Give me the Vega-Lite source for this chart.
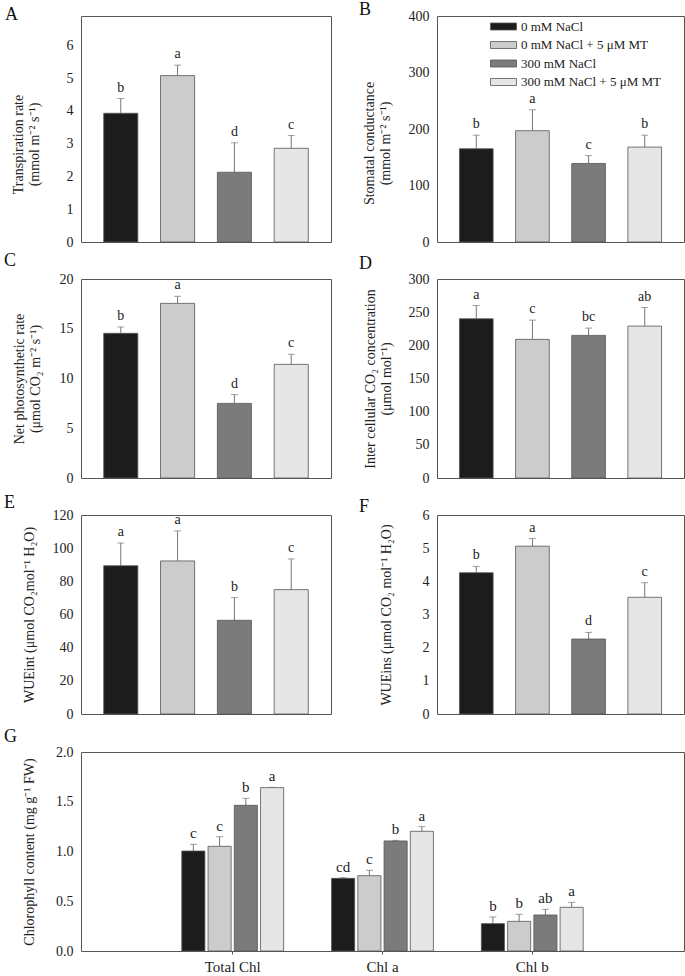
{
  "$schema": "https://vega.github.io/schema/vega-lite/v6.json",
  "padding": {"left": 3, "top": 0, "right": 0, "bottom": 0},
  "background": "white",
  "spacing": 5,
  "resolve": {"scale": {"color": "independent"}, "legend": {"color": "independent"}},
  "config": {
    "font": "Liberation Serif",
    "view": {"stroke": "#555", "strokeWidth": 1},
    "axis": {"labelFont": "Liberation Serif", "labelFontSize": 14, "titleFont": "Liberation Serif", "titleFontSize": 14, "titleFontWeight": "normal", "labelColor": "#222", "titleColor": "#222", "ticks": false, "grid": false, "domain": false, "labelPadding": 8, "titleLineHeight": 16},
    "title": {"font": "Liberation Serif", "fontSize": 18, "fontWeight": "normal", "anchor": "start", "frame": "group", "offset": 0, "baseline": "alphabetic", "color": "#111"},
    "legend": {"labelFont": "Liberation Serif", "labelFontSize": 13, "labelColor": "#222"}
  },
  "datasets": {
    "bars": [
      {"panel": "A", "treatment": "0 mM NaCl", "value": 3.93, "upper": 4.38, "letter": "b"},
      {"panel": "A", "treatment": "0 mM NaCl + 5 μM MT", "value": 5.08, "upper": 5.40, "letter": "a"},
      {"panel": "A", "treatment": "300 mM NaCl", "value": 2.13, "upper": 3.03, "letter": "d"},
      {"panel": "A", "treatment": "300 mM NaCl + 5 μM MT", "value": 2.86, "upper": 3.25, "letter": "c"},
      {"panel": "B", "treatment": "0 mM NaCl", "value": 165, "upper": 189, "letter": "b"},
      {"panel": "B", "treatment": "0 mM NaCl + 5 μM MT", "value": 197, "upper": 234, "letter": "a"},
      {"panel": "B", "treatment": "300 mM NaCl", "value": 139, "upper": 153, "letter": "c"},
      {"panel": "B", "treatment": "300 mM NaCl + 5 μM MT", "value": 168, "upper": 189, "letter": "b"},
      {"panel": "C", "treatment": "0 mM NaCl", "value": 14.54, "upper": 15.18, "letter": "b"},
      {"panel": "C", "treatment": "0 mM NaCl + 5 μM MT", "value": 17.55, "upper": 18.26, "letter": "a"},
      {"panel": "C", "treatment": "300 mM NaCl", "value": 7.50, "upper": 8.38, "letter": "d"},
      {"panel": "C", "treatment": "300 mM NaCl + 5 μM MT", "value": 11.42, "upper": 12.43, "letter": "c"},
      {"panel": "D", "treatment": "0 mM NaCl", "value": 240, "upper": 260, "letter": "a"},
      {"panel": "D", "treatment": "0 mM NaCl + 5 μM MT", "value": 209, "upper": 238, "letter": "c"},
      {"panel": "D", "treatment": "300 mM NaCl", "value": 215, "upper": 226, "letter": "bc"},
      {"panel": "D", "treatment": "300 mM NaCl + 5 μM MT", "value": 229, "upper": 257, "letter": "ab"},
      {"panel": "E", "treatment": "0 mM NaCl", "value": 89.4, "upper": 103.1, "letter": "a"},
      {"panel": "E", "treatment": "0 mM NaCl + 5 μM MT", "value": 92.3, "upper": 110.4, "letter": "a"},
      {"panel": "E", "treatment": "300 mM NaCl", "value": 56.5, "upper": 70.2, "letter": "b"},
      {"panel": "E", "treatment": "300 mM NaCl + 5 μM MT", "value": 75.0, "upper": 93.5, "letter": "c"},
      {"panel": "F", "treatment": "0 mM NaCl", "value": 4.26, "upper": 4.45, "letter": "b"},
      {"panel": "F", "treatment": "0 mM NaCl + 5 μM MT", "value": 5.06, "upper": 5.29, "letter": "a"},
      {"panel": "F", "treatment": "300 mM NaCl", "value": 2.26, "upper": 2.46, "letter": "d"},
      {"panel": "F", "treatment": "300 mM NaCl + 5 μM MT", "value": 3.52, "upper": 3.96, "letter": "c"}
    ],
    "chl": [
      {"pigment": "Total Chl", "treatment": "0 mM NaCl", "value": 1.005, "upper": 1.072, "letter": "c"},
      {"pigment": "Total Chl", "treatment": "0 mM NaCl + 5 μM MT", "value": 1.052, "upper": 1.149, "letter": "c"},
      {"pigment": "Total Chl", "treatment": "300 mM NaCl", "value": 1.464, "upper": 1.534, "letter": "b"},
      {"pigment": "Total Chl", "treatment": "300 mM NaCl + 5 μM MT", "value": 1.642, "upper": 1.645, "letter": "a"},
      {"pigment": "Chl a", "treatment": "0 mM NaCl", "value": 0.730, "upper": 0.737, "letter": "cd"},
      {"pigment": "Chl a", "treatment": "0 mM NaCl + 5 μM MT", "value": 0.757, "upper": 0.811, "letter": "c"},
      {"pigment": "Chl a", "treatment": "300 mM NaCl", "value": 1.106, "upper": 1.112, "letter": "b"},
      {"pigment": "Chl a", "treatment": "300 mM NaCl + 5 μM MT", "value": 1.203, "upper": 1.25, "letter": "a"},
      {"pigment": "Chl b", "treatment": "0 mM NaCl", "value": 0.275, "upper": 0.342, "letter": "b"},
      {"pigment": "Chl b", "treatment": "0 mM NaCl + 5 μM MT", "value": 0.298, "upper": 0.369, "letter": "b"},
      {"pigment": "Chl b", "treatment": "300 mM NaCl", "value": 0.362, "upper": 0.419, "letter": "ab"},
      {"pigment": "Chl b", "treatment": "300 mM NaCl + 5 μM MT", "value": 0.439, "upper": 0.489, "letter": "a"}
    ]
  },
  "vconcat": [
    {
      "columns": 2,
      "bounds": "flush",
      "align": {"row": "each", "column": "all"},
      "spacing": {"row": 37, "column": 106},
      "resolve": {"scale": {"color": "independent"}, "legend": {"color": "independent"}},
      "concat": [
        {
          "title": {"text": "A", "dx": -76, "dy": 12},
          "width": 250, "height": 226,
          "data": {"name": "bars"},
          "transform": [{"filter": "datum.panel === 'A'"}],
          "encoding": {
            "x": {"field": "treatment", "type": "nominal", "sort": ["0 mM NaCl", "0 mM NaCl + 5 μM MT", "300 mM NaCl", "300 mM NaCl + 5 μM MT"], "scale": {"paddingInner": 0.4, "paddingOuter": 0.4}, "axis": null},
            "y": {"field": "value", "type": "quantitative", "scale": {"domain": [0, 6.9], "nice": false}, "axis": {"values": [0, 1, 2, 3, 4, 5, 6], "title": ["Transpiration rate", "(mmol m⁻² s⁻¹)"], "titlePadding": 25, "titleY": 128}}
          },
          "layer": [
            {"mark": {"type": "rule", "color": "#777", "strokeWidth": 1}, "encoding": {"y2": {"field": "upper"}}},
            {"mark": {"type": "bar", "stroke": "#555", "strokeWidth": 0.8}, "encoding": {
              "color": {"field": "treatment", "type": "nominal", "scale": {"domain": ["0 mM NaCl", "0 mM NaCl + 5 μM MT", "300 mM NaCl", "300 mM NaCl + 5 μM MT"], "range": ["#1c1c1c", "#cccccc", "#7b7b7b", "#e6e6e6"]}, "legend": null}}},
            {"mark": {"type": "tick", "color": "#777", "size": 7, "thickness": 1}, "encoding": {"y": {"field": "upper", "type": "quantitative", "scale": {"domain": [0, 6.9], "nice": false}, "axis": {"values": [0, 1, 2, 3, 4, 5, 6], "title": ["Transpiration rate", "(mmol m⁻² s⁻¹)"], "titlePadding": 25, "titleY": 128}}}},
            {"mark": {"type": "text", "fontSize": 14, "dy": -7, "baseline": "alphabetic", "color": "#222"}, "encoding": {"y": {"field": "upper", "type": "quantitative", "scale": {"domain": [0, 6.9], "nice": false}, "axis": {"values": [0, 1, 2, 3, 4, 5, 6], "title": ["Transpiration rate", "(mmol m⁻² s⁻¹)"], "titlePadding": 25, "titleY": 128}}, "text": {"field": "letter"}}}
          ]
        },
        {
          "title": {"text": "B", "dx": -78, "dy": 14},
          "width": 247, "height": 226,
          "data": {"name": "bars"},
          "transform": [{"filter": "datum.panel === 'B'"}],
          "encoding": {
            "x": {"field": "treatment", "type": "nominal", "sort": ["0 mM NaCl", "0 mM NaCl + 5 μM MT", "300 mM NaCl", "300 mM NaCl + 5 μM MT"], "scale": {"paddingInner": 0.4, "paddingOuter": 0.4}, "axis": null},
            "y": {"field": "value", "type": "quantitative", "scale": {"domain": [0, 400], "nice": false}, "axis": {"values": [0, 100, 200, 300, 400], "title": ["Stomatal conductance", "(mmol m⁻² s⁻¹)"], "titlePadding": 16, "titleY": 127}}
          },
          "layer": [
            {"mark": {"type": "rule", "color": "#777", "strokeWidth": 1}, "encoding": {"y2": {"field": "upper"}}},
            {"mark": {"type": "bar", "stroke": "#555", "strokeWidth": 0.8}, "encoding": {
              "color": {"field": "treatment", "type": "nominal", "scale": {"domain": ["0 mM NaCl", "0 mM NaCl + 5 μM MT", "300 mM NaCl", "300 mM NaCl + 5 μM MT"], "range": ["#1c1c1c", "#cccccc", "#7b7b7b", "#e6e6e6"]},
                "legend": {"orient": "none", "legendX": 60, "legendY": 4, "title": null, "symbolType": "M-13,-3.5H13V3.5H-13Z", "symbolSize": 4, "symbolStrokeColor": "#555", "symbolStrokeWidth": 0.8, "labelOffset": 11, "rowPadding": 4.5, "padding": 0, "labelFontSize": 13}}}},
            {"mark": {"type": "tick", "color": "#777", "size": 7, "thickness": 1}, "encoding": {"y": {"field": "upper", "type": "quantitative", "scale": {"domain": [0, 400], "nice": false}, "axis": {"values": [0, 100, 200, 300, 400], "title": ["Stomatal conductance", "(mmol m⁻² s⁻¹)"], "titlePadding": 16, "titleY": 127}}}},
            {"mark": {"type": "text", "fontSize": 14, "dy": -7, "baseline": "alphabetic", "color": "#222"}, "encoding": {"y": {"field": "upper", "type": "quantitative", "scale": {"domain": [0, 400], "nice": false}, "axis": {"values": [0, 100, 200, 300, 400], "title": ["Stomatal conductance", "(mmol m⁻² s⁻¹)"], "titlePadding": 16, "titleY": 127}}, "text": {"field": "letter"}}}
          ]
        },
        {
          "title": {"text": "C", "dx": -77, "dy": 1.5},
          "width": 250, "height": 199,
          "data": {"name": "bars"},
          "transform": [{"filter": "datum.panel === 'C'"}],
          "encoding": {
            "x": {"field": "treatment", "type": "nominal", "sort": ["0 mM NaCl", "0 mM NaCl + 5 μM MT", "300 mM NaCl", "300 mM NaCl + 5 μM MT"], "scale": {"paddingInner": 0.4, "paddingOuter": 0.4}, "axis": null},
            "y": {"field": "value", "type": "quantitative", "scale": {"domain": [0, 20], "nice": false}, "axis": {"values": [0, 5, 10, 15, 20], "title": ["Net photosynthetic rate", "(μmol CO₂ m⁻² s⁻¹)"], "titlePadding": 17}}
          },
          "layer": [
            {"mark": {"type": "rule", "color": "#777", "strokeWidth": 1}, "encoding": {"y2": {"field": "upper"}}},
            {"mark": {"type": "bar", "stroke": "#555", "strokeWidth": 0.8}, "encoding": {
              "color": {"field": "treatment", "type": "nominal", "scale": {"domain": ["0 mM NaCl", "0 mM NaCl + 5 μM MT", "300 mM NaCl", "300 mM NaCl + 5 μM MT"], "range": ["#1c1c1c", "#cccccc", "#7b7b7b", "#e6e6e6"]}, "legend": null}}},
            {"mark": {"type": "tick", "color": "#777", "size": 7, "thickness": 1}, "encoding": {"y": {"field": "upper", "type": "quantitative", "scale": {"domain": [0, 20], "nice": false}, "axis": {"values": [0, 5, 10, 15, 20], "title": ["Net photosynthetic rate", "(μmol CO₂ m⁻² s⁻¹)"], "titlePadding": 17}}}},
            {"mark": {"type": "text", "fontSize": 14, "dy": -7, "baseline": "alphabetic", "color": "#222"}, "encoding": {"y": {"field": "upper", "type": "quantitative", "scale": {"domain": [0, 20], "nice": false}, "axis": {"values": [0, 5, 10, 15, 20], "title": ["Net photosynthetic rate", "(μmol CO₂ m⁻² s⁻¹)"], "titlePadding": 17}}, "text": {"field": "letter"}}}
          ]
        },
        {
          "title": {"text": "D", "dx": -78, "dy": 4.5},
          "width": 247, "height": 199,
          "data": {"name": "bars"},
          "transform": [{"filter": "datum.panel === 'D'"}],
          "encoding": {
            "x": {"field": "treatment", "type": "nominal", "sort": ["0 mM NaCl", "0 mM NaCl + 5 μM MT", "300 mM NaCl", "300 mM NaCl + 5 μM MT"], "scale": {"paddingInner": 0.4, "paddingOuter": 0.4}, "axis": null},
            "y": {"field": "value", "type": "quantitative", "scale": {"domain": [0, 300], "nice": false}, "axis": {"values": [0, 50, 100, 150, 200, 250, 300], "title": ["Inter cellular CO₂ concentration", "(μmol mol⁻¹)"], "titlePadding": 15}}
          },
          "layer": [
            {"mark": {"type": "rule", "color": "#777", "strokeWidth": 1}, "encoding": {"y2": {"field": "upper"}}},
            {"mark": {"type": "bar", "stroke": "#555", "strokeWidth": 0.8}, "encoding": {
              "color": {"field": "treatment", "type": "nominal", "scale": {"domain": ["0 mM NaCl", "0 mM NaCl + 5 μM MT", "300 mM NaCl", "300 mM NaCl + 5 μM MT"], "range": ["#1c1c1c", "#cccccc", "#7b7b7b", "#e6e6e6"]}, "legend": null}}},
            {"mark": {"type": "tick", "color": "#777", "size": 7, "thickness": 1}, "encoding": {"y": {"field": "upper", "type": "quantitative", "scale": {"domain": [0, 300], "nice": false}, "axis": {"values": [0, 50, 100, 150, 200, 250, 300], "title": ["Inter cellular CO₂ concentration", "(μmol mol⁻¹)"], "titlePadding": 15}}}},
            {"mark": {"type": "text", "fontSize": 14, "dy": -7, "baseline": "alphabetic", "color": "#222"}, "encoding": {"y": {"field": "upper", "type": "quantitative", "scale": {"domain": [0, 300], "nice": false}, "axis": {"values": [0, 50, 100, 150, 200, 250, 300], "title": ["Inter cellular CO₂ concentration", "(μmol mol⁻¹)"], "titlePadding": 15}}, "text": {"field": "letter"}}}
          ]
        },
        {
          "title": {"text": "E", "dx": -77, "dy": 7.5},
          "width": 250, "height": 199,
          "data": {"name": "bars"},
          "transform": [{"filter": "datum.panel === 'E'"}],
          "encoding": {
            "x": {"field": "treatment", "type": "nominal", "sort": ["0 mM NaCl", "0 mM NaCl + 5 μM MT", "300 mM NaCl", "300 mM NaCl + 5 μM MT"], "scale": {"paddingInner": 0.4, "paddingOuter": 0.4}, "axis": null},
            "y": {"field": "value", "type": "quantitative", "scale": {"domain": [0, 120], "nice": false}, "axis": {"values": [0, 20, 40, 60, 80, 100, 120], "title": "WUEint (μmol CO₂mol⁻¹ H₂O)", "titlePadding": 16}}
          },
          "layer": [
            {"mark": {"type": "rule", "color": "#777", "strokeWidth": 1}, "encoding": {"y2": {"field": "upper"}}},
            {"mark": {"type": "bar", "stroke": "#555", "strokeWidth": 0.8}, "encoding": {
              "color": {"field": "treatment", "type": "nominal", "scale": {"domain": ["0 mM NaCl", "0 mM NaCl + 5 μM MT", "300 mM NaCl", "300 mM NaCl + 5 μM MT"], "range": ["#1c1c1c", "#cccccc", "#7b7b7b", "#e6e6e6"]}, "legend": null}}},
            {"mark": {"type": "tick", "color": "#777", "size": 7, "thickness": 1}, "encoding": {"y": {"field": "upper", "type": "quantitative", "scale": {"domain": [0, 120], "nice": false}, "axis": {"values": [0, 20, 40, 60, 80, 100, 120], "title": "WUEint (μmol CO₂mol⁻¹ H₂O)", "titlePadding": 16}}}},
            {"mark": {"type": "text", "fontSize": 14, "dy": -7, "baseline": "alphabetic", "color": "#222"}, "encoding": {"y": {"field": "upper", "type": "quantitative", "scale": {"domain": [0, 120], "nice": false}, "axis": {"values": [0, 20, 40, 60, 80, 100, 120], "title": "WUEint (μmol CO₂mol⁻¹ H₂O)", "titlePadding": 16}}, "text": {"field": "letter"}}}
          ]
        },
        {
          "title": {"text": "F", "dx": -78, "dy": 11.5},
          "width": 247, "height": 199,
          "data": {"name": "bars"},
          "transform": [{"filter": "datum.panel === 'F'"}],
          "encoding": {
            "x": {"field": "treatment", "type": "nominal", "sort": ["0 mM NaCl", "0 mM NaCl + 5 μM MT", "300 mM NaCl", "300 mM NaCl + 5 μM MT"], "scale": {"paddingInner": 0.4, "paddingOuter": 0.4}, "axis": null},
            "y": {"field": "value", "type": "quantitative", "scale": {"domain": [0, 6], "nice": false}, "axis": {"values": [0, 1, 2, 3, 4, 5, 6], "title": "WUEins (μmol CO₂ mol⁻¹ H₂O)", "titlePadding": 29}}
          },
          "layer": [
            {"mark": {"type": "rule", "color": "#777", "strokeWidth": 1}, "encoding": {"y2": {"field": "upper"}}},
            {"mark": {"type": "bar", "stroke": "#555", "strokeWidth": 0.8}, "encoding": {
              "color": {"field": "treatment", "type": "nominal", "scale": {"domain": ["0 mM NaCl", "0 mM NaCl + 5 μM MT", "300 mM NaCl", "300 mM NaCl + 5 μM MT"], "range": ["#1c1c1c", "#cccccc", "#7b7b7b", "#e6e6e6"]}, "legend": null}}},
            {"mark": {"type": "tick", "color": "#777", "size": 7, "thickness": 1}, "encoding": {"y": {"field": "upper", "type": "quantitative", "scale": {"domain": [0, 6], "nice": false}, "axis": {"values": [0, 1, 2, 3, 4, 5, 6], "title": "WUEins (μmol CO₂ mol⁻¹ H₂O)", "titlePadding": 29}}}},
            {"mark": {"type": "text", "fontSize": 14, "dy": -7, "baseline": "alphabetic", "color": "#222"}, "encoding": {"y": {"field": "upper", "type": "quantitative", "scale": {"domain": [0, 6], "nice": false}, "axis": {"values": [0, 1, 2, 3, 4, 5, 6], "title": "WUEins (μmol CO₂ mol⁻¹ H₂O)", "titlePadding": 29}}, "text": {"field": "letter"}}}
          ]
        }
      ]
    },
    {
      "title": {"text": "G", "dx": -77, "dy": 5},
      "width": 603, "height": 199,
      "data": {"name": "chl"},
      "encoding": {
        "x": {"field": "pigment", "type": "nominal", "sort": ["Total Chl", "Chl a", "Chl b"], "scale": {"paddingInner": 0.32, "paddingOuter": 0.673}, "axis": {"title": null, "labelAngle": 0, "labelFontSize": 15, "ticks": true, "tickSize": 3, "tickColor": "#555", "labelPadding": 5}},
        "xOffset": {"field": "treatment", "type": "nominal", "sort": ["0 mM NaCl", "0 mM NaCl + 5 μM MT", "300 mM NaCl", "300 mM NaCl + 5 μM MT"], "scale": {"paddingInner": 0.12, "paddingOuter": 0}},
        "y": {"field": "value", "type": "quantitative", "scale": {"domain": [0, 2], "nice": false}, "axis": {"values": [0, 0.5, 1, 1.5, 2], "format": ".1f", "labelFontSize": 14, "titleFontSize": 14, "title": "Chlorophyll content (mg g⁻¹ FW)", "titlePadding": 19}}
      },
      "layer": [
        {"mark": {"type": "rule", "color": "#777", "strokeWidth": 1}, "encoding": {"y2": {"field": "upper"}}},
        {"mark": {"type": "bar", "stroke": "#555", "strokeWidth": 0.8}, "encoding": {
          "color": {"field": "treatment", "type": "nominal", "scale": {"domain": ["0 mM NaCl", "0 mM NaCl + 5 μM MT", "300 mM NaCl", "300 mM NaCl + 5 μM MT"], "range": ["#1c1c1c", "#cccccc", "#7b7b7b", "#e6e6e6"]}, "legend": null}}},
        {"mark": {"type": "tick", "color": "#777", "size": 7, "thickness": 1}, "encoding": {"y": {"field": "upper", "type": "quantitative", "scale": {"domain": [0, 2], "nice": false}, "axis": {"values": [0, 0.5, 1, 1.5, 2], "format": ".1f", "labelFontSize": 14, "titleFontSize": 14, "title": "Chlorophyll content (mg g⁻¹ FW)", "titlePadding": 19}}}},
        {"mark": {"type": "text", "fontSize": 15, "dy": -6, "baseline": "alphabetic", "color": "#222"}, "encoding": {"y": {"field": "upper", "type": "quantitative", "scale": {"domain": [0, 2], "nice": false}, "axis": {"values": [0, 0.5, 1, 1.5, 2], "format": ".1f", "labelFontSize": 14, "titleFontSize": 14, "title": "Chlorophyll content (mg g⁻¹ FW)", "titlePadding": 19}}, "text": {"field": "letter"}}}
      ]
    }
  ]
}
